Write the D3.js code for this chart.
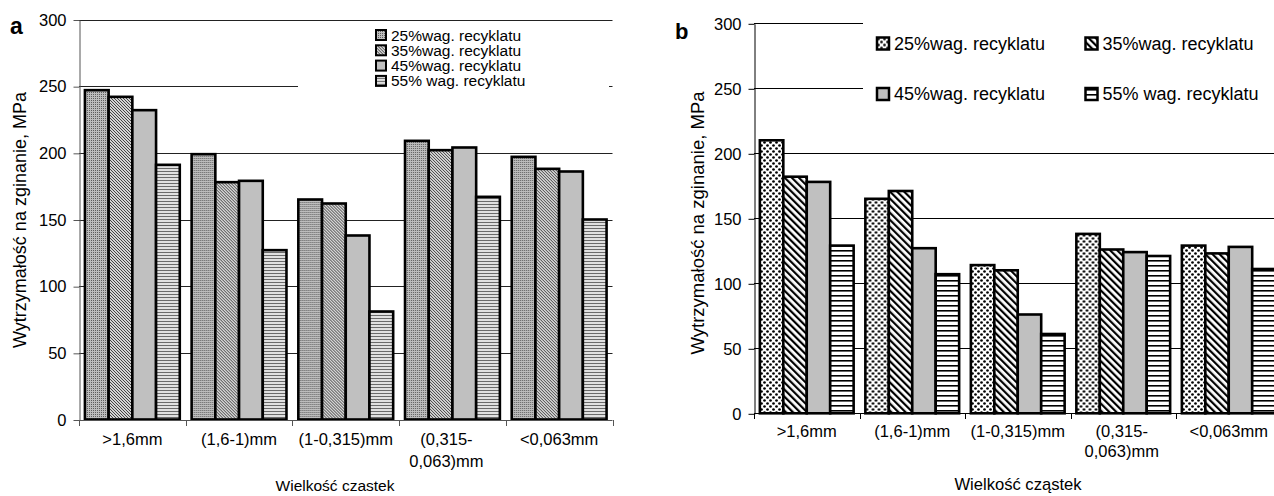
<!DOCTYPE html>
<html>
<head>
<meta charset="utf-8">
<script src="https://cdn.jsdelivr.net/npm/d3@7"></script>
<style>
  body { margin: 0; background: #fff; }
  text { font-family: "Liberation Sans", Arial, sans-serif; fill: #000; }
</style>
</head>
<body>
<svg width="1274" height="496"></svg>
<script>
// categories (particle size) and tick labels
const categories = [">1,6mm", "(1,6-1)mm", "(1-0,315)mm", "(0,315-0,063)mm", "<0,063mm"];
const categoryLines = [[">1,6mm"], ["(1,6-1)mm"], ["(1-0,315)mm"], ["(0,315-", "0,063)mm"], ["<0,063mm"]];
const series = ["25%wag. recyklatu", "35%wag. recyklatu", "45%wag. recyklatu", "55% wag. recyklatu"];
const yTicks = [0, 50, 100, 150, 200, 250, 300];

// chart a
const a25 = [247, 199, 165, 209, 197];
const a35 = [242, 178, 162, 202, 188];
const a45 = [232, 179, 138, 204, 186];
const a55 = [191, 127, 81, 167, 150];

// chart b
const b25 = [210, 165, 114, 138, 129];
const b35 = [182, 171, 110, 126, 123];
const b45 = [178, 127, 76, 124, 128];
const b55 = [129, 107, 61, 121, 111];

const svg = d3.select('svg');
const defs = svg.append('defs');

function pattern(id, w, h, bg, transform) {
    const p = defs.append('pattern')
        .attr('id', id)
        .attr('patternUnits', 'userSpaceOnUse')
        .attr('width', w).attr('height', h);
    if (transform) p.attr('patternTransform', transform);
    p.append('rect').attr('width', w).attr('height', h).attr('fill', bg);
    return p;
}

// fine grey patterns (chart a)
pattern('pa25', 2, 2, '#bdbdbd')
    .append('rect').attr('width', 1).attr('height', 1).attr('fill', '#5e5e5e');
pattern('pa35', 3, 3, '#d4d4d4')
    .append('path').attr('d', 'M-1,-1L4,4M-1,2L1,4M2,-1L4,1')
    .attr('stroke', '#444').attr('stroke-width', 1);
pattern('pa45', 4, 4, '#c0c0c0');
pattern('pa55', 3, 3, '#e0e0e0')
    .append('rect').attr('width', 3).attr('height', 1).attr('fill', '#6a6a6a');

// bold black/white patterns (chart b)
const pb25 = pattern('pb25', 6, 6, '#fff');
pb25.append('circle').attr('cx', 1.5).attr('cy', 1.5).attr('r', 1.35).attr('fill', '#000');
pb25.append('circle').attr('cx', 4.5).attr('cy', 4.5).attr('r', 1.35).attr('fill', '#000');
pattern('pb35', 5, 5, '#fff', 'rotate(-45)')
    .append('rect').attr('width', 2.2).attr('height', 5).attr('fill', '#000');
pattern('pb45', 4, 4, '#c0c0c0');
pattern('pb55', 5, 5, '#fff')
    .append('rect').attr('width', 5).attr('height', 1.6).attr('fill', '#000');

function drawChart(cfg) {
    const g = svg.append('g');
    const x = d3.scaleBand().domain(categories).range([cfg.left, cfg.right]);
    const xs = d3.scaleBand().domain(series).range([0, x.bandwidth()]).paddingOuter(0.25);
    const y = d3.scaleLinear().domain([0, 300]).range([cfg.bottom, cfg.top]);

    // gridlines
    g.append('g').selectAll('line')
        .data(yTicks.slice(1))
        .join('line')
        .attr('x1', cfg.left).attr('x2', cfg.right)
        .attr('y1', d => Math.round(y(d)) + 0.5).attr('y2', d => Math.round(y(d)) + 0.5)
        .attr('stroke', cfg.grid).attr('stroke-width', 1);

    // legend background hides the gridlines behind it
    g.append('rect')
        .attr('x', cfg.legendBox[0]).attr('y', cfg.legendBox[1])
        .attr('width', cfg.legendBox[2]).attr('height', cfg.legendBox[3])
        .attr('fill', '#fff');

    // bars
    const groups = g.append('g').selectAll('g')
        .data(categories)
        .join('g')
        .attr('transform', d => `translate(${x(d)},0)`);

    groups.selectAll('rect')
        .data((c, i) => series.map((s, j) => ({ s, j, v: cfg.values[j][i] })))
        .join('rect')
        .attr('x', d => xs(d.s))
        .attr('width', xs.bandwidth())
        .attr('y', d => y(d.v))
        .attr('height', d => y(0) - y(d.v))
        .attr('fill', d => `url(#${cfg.fills[d.j]})`)
        .attr('stroke', '#000')
        .attr('stroke-width', 2.6);

    // y axis
    const ya = g.append('g')
        .attr('transform', `translate(${cfg.left + 0.5},0.5)`)
        .call(d3.axisLeft(y).tickValues(yTicks).tickSize(6).tickSizeOuter(0).tickPadding(7));
    ya.selectAll('path, line').attr('stroke', cfg.axis);
    ya.selectAll('text').attr('font-size', 16.5).attr('font-family', null);

    // x axis: line + boundary ticks
    const xa = g.append('g');
    xa.append('line')
        .attr('x1', cfg.left).attr('x2', cfg.right)
        .attr('y1', Math.round(y(0)) + 0.5).attr('y2', Math.round(y(0)) + 0.5)
        .attr('stroke', cfg.axis);
    xa.selectAll('line.tk')
        .data(categories.map(c => x(c)).concat([cfg.right]))
        .join('line').attr('class', 'tk')
        .attr('x1', d => Math.round(d) + 0.5).attr('x2', d => Math.round(d) + 0.5)
        .attr('y1', Math.round(y(0))).attr('y2', Math.round(y(0)) + 6)
        .attr('stroke', cfg.axis);

    xa.selectAll('text')
        .data(categories)
        .join('text')
        .attr('text-anchor', 'middle')
        .attr('font-size', 16.5)
        .attr('transform', (d, i) => `translate(${x(d) + x.bandwidth() / 2 - (categoryLines[i].length > 1 ? cfg.wrapShift : 0)},${y(0) + cfg.labelOffset})`)
        .selectAll('tspan')
        .data((d, i) => categoryLines[i])
        .join('tspan')
        .attr('x', 0)
        .attr('y', (d, i) => i * cfg.lineGap)
        .text(d => d);

    // axis titles
    g.append('text')
        .attr('text-anchor', 'middle')
        .attr('font-size', cfg.yTitleSize)
        .attr('transform', `translate(${cfg.yTitlePos[0]},${cfg.yTitlePos[1]}) rotate(-90)`)
        .attr('dy', '0.35em')
        .text('Wytrzymałość na zginanie, MPa');

    g.append('text')
        .attr('text-anchor', 'middle')
        .attr('font-size', cfg.xTitleSize)
        .attr('x', cfg.xTitlePos[0]).attr('y', cfg.xTitlePos[1])
        .text(cfg.xTitle);

    g.append('text')
        .attr('font-weight', 'bold')
        .attr('font-size', cfg.letterSize)
        .attr('x', cfg.letterPos[0]).attr('y', cfg.letterPos[1])
        .text(cfg.letter);

    // legend
    const lg = g.append('g').selectAll('g')
        .data(series)
        .join('g')
        .attr('transform', (d, i) => `translate(${cfg.legendPos(i)})`);
    lg.append('rect')
        .attr('x', 0).attr('y', -cfg.legendIcon / 2)
        .attr('width', cfg.legendIcon).attr('height', cfg.legendIcon)
        .attr('fill', (d, i) => `url(#${cfg.fills[i]})`)
        .attr('stroke', '#000').attr('stroke-width', cfg.legendStroke);
    lg.append('text')
        .attr('x', cfg.legendIcon + cfg.legendGap)
        .attr('dy', '0.36em')
        .attr('font-size', cfg.legendSize)
        .text(d => d);
}

drawChart({
    left: 79, right: 612.5, top: 19.5, bottom: 419.5,
    values: [a25, a35, a45, a55],
    fills: ['pa25', 'pa35', 'pa45', 'pa55'],
    grid: '#222', axis: '#555',
    legendBox: [298, 24, 311, 71],
    legendPos: i => [376, 35 + i * 15.3],
    legendIcon: 10, legendStroke: 2, legendGap: 5, legendSize: 15.5,
    labelOffset: 25.5, lineGap: 22, wrapShift: 6,
    yTitleSize: 18, yTitlePos: [20, 220],
    xTitle: 'Wielkość czastek', xTitleSize: 15.5, xTitlePos: [335, 491],
    letter: 'a', letterSize: 23, letterPos: [10, 34]
});

drawChart({
    left: 754, right: 1281.5, top: 23.3, bottom: 413.3,
    values: [b25, b35, b45, b55],
    fills: ['pb25', 'pb35', 'pb45', 'pb55'],
    grid: '#000', axis: '#000',
    legendBox: [863, 14, 420, 100],
    legendPos: i => [877 + (i % 2) * 208.5, 43.5 + Math.floor(i / 2) * 50.5],
    legendIcon: 12, legendStroke: 2.5, legendGap: 5, legendSize: 18,
    labelOffset: 24, lineGap: 20, wrapShift: 1.5,
    yTitleSize: 18.5, yTitlePos: [698, 223],
    xTitle: 'Wielkość cząstek', xTitleSize: 16.6, xTitlePos: [1018, 490],
    letter: 'b', letterSize: 22, letterPos: [675, 39]
});
</script>
</body>
</html>
